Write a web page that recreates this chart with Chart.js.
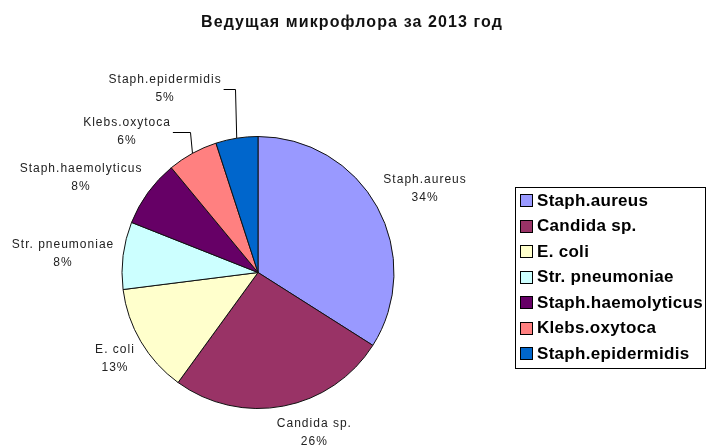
<!DOCTYPE html>
<html><head><meta charset="utf-8">
<script src="https://cdn.jsdelivr.net/npm/chart.js@4.4.0/dist/chart.umd.min.js"></script>
<style>html,body{margin:0;padding:0;background:#fff}#wrap{width:707px;height:447px}</style>
</head><body><div id="wrap"><canvas id="c" width="707" height="447"></canvas></div>
<script>
const titleText = 'Ведущая микрофлора за 2013 год';
const categories = ['Staph.aureus','Candida sp.','E. coli','Str. pneumoniae','Staph.haemolyticus','Klebs.oxytoca','Staph.epidermidis'];
const values = [34, 26, 13, 8, 8, 6, 5];
const colors = ['#9999FF','#993366','#FFFFCC','#CCFFFF','#660066','#FF8080','#0066CC'];

// label placement (angle in degrees clockwise from top, distance in radius units)
const labelPlace = [
  {a:63.3, d:1.375}, {a:160.6, d:1.248}, {a:239, d:1.227}, {a:275.4, d:1.44},
  {a:298.1, d:1.475}, {a:317, d:1.412, leader:true}, {a:333.2, d:1.515, leader:true}
];

const total = values.reduce((s,v)=>s+v,0);

const titlePlugin = {
  id:'wideTitle',
  afterDraw(chart){
    const ctx = chart.ctx;
    ctx.save();
    ctx.font = 'bold 16px "Liberation Sans", Arial, sans-serif';
    ctx.letterSpacing = '1.1px';
    ctx.fillStyle = '#111';
    ctx.textAlign = 'center';
    ctx.textBaseline = 'alphabetic';
    ctx.fillText(titleText, 352, 27);
    ctx.restore();
  }
};

const labelPlugin = {
  id:'sliceLabels',
  afterDatasetsDraw(chart){
    const ctx = chart.ctx;
    const meta = chart.getDatasetMeta(0);
    ctx.save();
    ctx.font = '12px "Liberation Sans", Arial, sans-serif';
    ctx.letterSpacing = '1px';
    ctx.fillStyle = '#222';
    ctx.textAlign = 'center';
    ctx.textBaseline = 'middle';
    meta.data.forEach((arc,i)=>{
      const p = arc.getProps(['x','y','outerRadius','startAngle','endAngle'], true);
      const pl = labelPlace[i];
      const ang = (pl.a - 90) * Math.PI/180;
      const lx = p.x + Math.cos(ang)*p.outerRadius*pl.d;
      const ly = p.y + Math.sin(ang)*p.outerRadius*pl.d;
      const pct = Math.round(values[i]/total*100) + '%';
      ctx.fillText(categories[i], lx, ly-9);
      ctx.fillText(pct, lx, ly+9);
      if (pl.leader){
        const mid = (p.startAngle+p.endAngle)/2;
        const ex = p.x + Math.cos(mid)*p.outerRadius;
        const ey = p.y + Math.sin(mid)*p.outerRadius;
        const w = ctx.measureText(categories[i]).width;
        ctx.beginPath();
        ctx.strokeStyle = '#000';
        ctx.lineWidth = 1;
        ctx.moveTo(lx + w/2 + 2, Math.round(ly)+0.5);
        ctx.lineTo(Math.round(ex)-1.5, Math.round(ly)+0.5);
        ctx.lineTo(ex, ey);
        ctx.stroke();
      }
    });
    ctx.restore();
  }
};

const legendPlugin = {
  id:'boxLegend',
  afterDraw(chart){
    const ctx = chart.ctx;
    ctx.save();
    const bx = 515.5, by = 187.5, bw = 190, bh = 181;
    ctx.strokeStyle = '#000'; ctx.lineWidth = 1;
    ctx.strokeRect(bx, by, bw, bh);
    ctx.font = 'bold 17px "Liberation Sans", Arial, sans-serif';
    ctx.letterSpacing = '0.3px';
    ctx.textBaseline = 'middle';
    ctx.textAlign = 'left';
    categories.forEach((c,i)=>{
      const cy = 200 + i*25.5;
      const sy = Math.round(cy-6)+0.5;
      ctx.fillStyle = colors[i];
      ctx.fillRect(520.5, sy, 12, 12);
      ctx.strokeStyle = '#000';
      ctx.strokeRect(520.5, sy, 12, 12);
      ctx.fillStyle = '#000';
      ctx.fillText(c, 537, cy+1);
    });
    ctx.restore();
  }
};

new Chart(document.getElementById('c'), {
  type:'pie',
  data:{ labels:categories, datasets:[{ data:values, backgroundColor:colors, borderColor:'#111', borderWidth:1 }] },
  options:{
    responsive:false, animation:false,
    layout:{ padding:{ left:121, right:312, top:136, bottom:38 } },
    plugins:{
      legend:{ display:false },
      tooltip:{ enabled:false },
      title:{ display:false }
    }
  },
  plugins:[labelPlugin, legendPlugin, titlePlugin]
});
</script></body></html>
